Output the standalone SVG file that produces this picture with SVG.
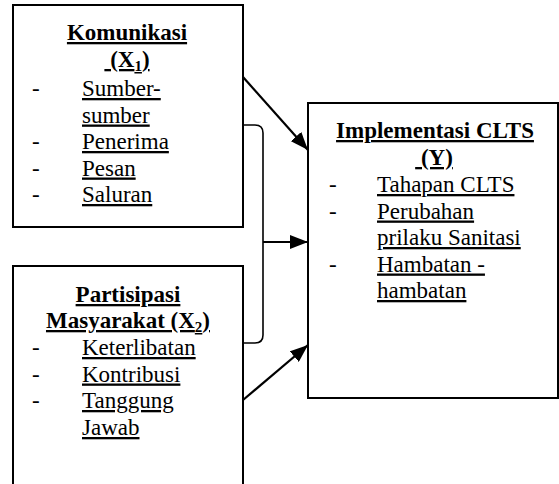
<svg xmlns="http://www.w3.org/2000/svg" width="559" height="484" viewBox="0 0 559 484">
<style>
text{font-family:"Liberation Serif","Times New Roman",serif;font-size:23px;fill:#000;white-space:pre}
.b{font-weight:bold}
.u{text-decoration:underline}
.c{text-anchor:middle}
.box{fill:#fff;stroke:#000;stroke-width:2}
.con{fill:none;stroke:#000;stroke-width:2.2}
.br{fill:none;stroke:#000;stroke-width:1.6}
.sub{font-size:15px}
</style>
<defs>
<marker id="ah2" viewBox="0 0 18 14" refX="18" refY="7" markerWidth="18" markerHeight="14" markerUnits="userSpaceOnUse" orient="auto">
<path d="M0,0 L18,7 L0,14 z" fill="#000"/>
</marker>
</defs>
<g id="connectors">
<path class="br" d="M243,125 H255 Q263,125 263,133 V335 Q263,343 255,343 H243"/>
<line class="con" x1="243" y1="77" x2="308" y2="150" marker-end="url(#ah2)"/>
<line class="con" x1="263" y1="242" x2="308" y2="242" marker-end="url(#ah2)"/>
<line class="con" x1="243" y1="400" x2="308" y2="345" marker-end="url(#ah2)"/>
</g>
<g id="komunikasi">
<rect class="box" x="13" y="5" width="230" height="222"/>
<text class="b u c" x="127" y="40">Komunikasi</text>
<text class="b u c" x="127" y="67"> (X<tspan class="sub" dy="4">1</tspan><tspan dy="-4">)</tspan></text>
<text x="32" y="96">-</text><text class="u" x="82" y="96">Sumber-</text>
<text class="u" x="82" y="122.5">sumber</text>
<text x="32" y="149">-</text><text class="u" x="82" y="149">Penerima</text>
<text x="32" y="175.5">-</text><text class="u" x="82" y="175.5">Pesan</text>
<text x="32" y="202">-</text><text class="u" x="82" y="202">Saluran</text>
</g>
<g id="partisipasi">
<path class="box" d="M13,490 V266 H243 V490"/>
<text class="b u c" x="128" y="302">Partisipasi</text>
<text class="b u c" x="128" y="328">Masyarakat (X<tspan class="sub" dy="4">2</tspan><tspan dy="-4">)</tspan></text>
<text x="32" y="355">-</text><text class="u" x="82" y="355">Keterlibatan</text>
<text x="32" y="381.5">-</text><text class="u" x="82" y="381.5">Kontribusi</text>
<text x="32" y="408">-</text><text class="u" x="82" y="408">Tanggung</text>
<text class="u" x="82" y="435">Jawab</text>
</g>
<g id="implementasi">
<rect class="box" x="308" y="103" width="250" height="295"/>
<text class="b u c" x="435" y="138">Implementasi CLTS</text>
<text class="b u c" x="434" y="165"> (Y)</text>
<text x="329" y="192">-</text><text class="u" x="377" y="192">Tahapan CLTS</text>
<text x="329" y="218.5">-</text><text class="u" x="377" y="218.5">Perubahan</text>
<text class="u" x="377" y="245">prilaku Sanitasi</text>
<text x="329" y="271.5">-</text><text class="u" x="377" y="271.5">Hambatan -</text>
<text class="u" x="377" y="298">hambatan</text>
</g>
</svg>
